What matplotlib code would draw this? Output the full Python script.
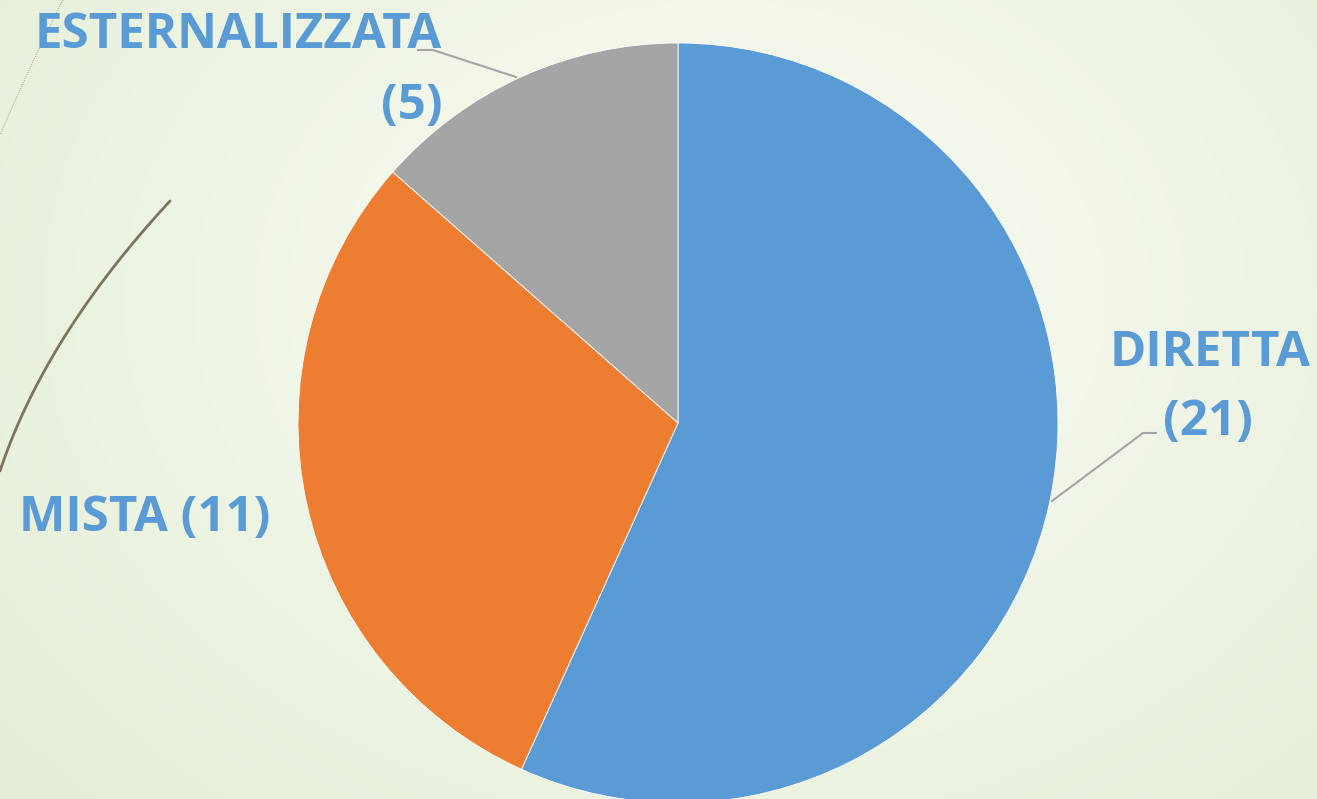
import numpy as np
import matplotlib.pyplot as plt

categories = ["DIRETTA", "MISTA", "ESTERNALIZZATA"]
values = [21, 11, 5]
colors = ["#5B9BD5", "#ED7D31", "#A5A5A5"]
label_color = "#5B9BD5"

W, H = 1317, 799
fig = plt.figure(figsize=(W / 100, H / 100), dpi=100)

# background gradient
bg = fig.add_axes([0, 0, 1, 1])
yy, xx = np.mgrid[0:H, 0:W]
d = np.sqrt(((xx - 720) / 900.0) ** 2 + ((yy - 300) / 700.0) ** 2)
d = np.clip(d, 0, 1)
c0 = np.array([0.985, 0.99, 0.965])
c1 = np.array([0.90, 0.94, 0.85])
img = c0[None, None, :] * (1 - d[..., None]) + c1[None, None, :] * d[..., None]
bg.imshow(img, extent=[0, W, H, 0], aspect='auto')
bg.set_xlim(0, W)
bg.set_ylim(H, 0)
bg.axis('off')

# decorative curves
t = np.linspace(0, 1, 100)
x1 = 170 - 170 * t - 80 * t * (1 - t)
y1 = 201 + 270 * t
bg.plot(x1, y1, color="#7A7560", lw=2.0, solid_capstyle='round')
x2 = 63 - 63 * t - 5 * t * (1 - t)
y2 = 0 + 135 * t
bg.plot(x2, y2, color="#B0B0A0", lw=0.8, ls=(0, (1, 1)))

ax = fig.add_axes([0, 0, 1, 1])
ax.set_facecolor('none')
cx, cy, r = 678, H - 423, 380
ax.pie(values, colors=colors, startangle=90, counterclock=False,
       center=(cx, cy), radius=r, frame=True,
       wedgeprops=dict(edgecolor='white', linewidth=0.6))
ax.set_xlim(0, W)
ax.set_ylim(0, H)
ax.set_aspect('auto')
ax.axis('off')

fkw = dict(color=label_color, fontweight='bold', family=['Open Sans', 'DejaVu Sans'], fontsize=35.5)

# ESTERNALIZZATA label
ax.text(442, H - 35, categories[2], ha='right', va='center', **fkw)
ax.text(443, H - 106, f"({values[2]})", ha='right', va='center', **fkw)
ax.plot([418, 433, 516], [H - 50, H - 50, H - 77], color="#A5A5A5", lw=1.5)

# DIRETTA label
ax.text(1210, H - 353, categories[0], ha='center', va='center', **fkw)
ax.text(1208, H - 423, f"({values[0]})", ha='center', va='center', **fkw)
ax.plot([1052, 1143, 1156], [H - 501, H - 433, H - 433], color="#A5A5A5", lw=1.5)

# MISTA label
ax.text(145, H - 519, f"{categories[1]} ({values[1]})", ha='center', va='center', **fkw)

fig.savefig("out.png", dpi=100)
